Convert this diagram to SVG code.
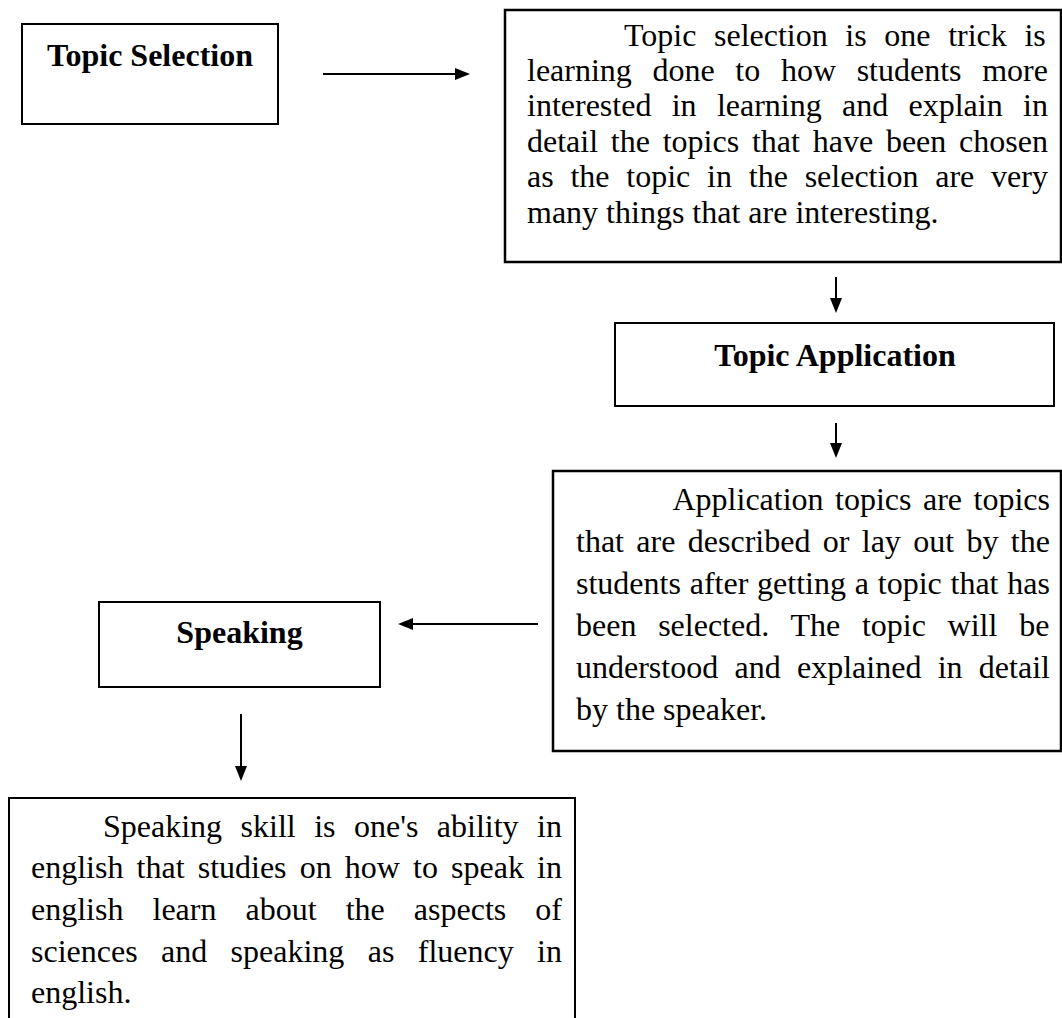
<svg xmlns="http://www.w3.org/2000/svg" width="1062" height="1018" viewBox="0 0 1062 1018">
<defs>
<style>
.box{fill:#fff;stroke:#000;stroke-width:2}
.thick{stroke-width:2.5}
.title{font-family:"Liberation Serif","Times New Roman",serif;font-size:32px;font-weight:bold;fill:#000;text-anchor:middle}
.body{font-family:"Liberation Serif","Times New Roman",serif;font-size:32px;fill:#000}
.conn{fill:none;stroke:#000;stroke-width:2}
</style>
<marker id="ah" viewBox="0 0 15 12" refX="0" refY="6" markerWidth="15" markerHeight="12" markerUnits="userSpaceOnUse" orient="auto">
<path d="M0,0 L15,6 L0,12 z" fill="#000"/>
</marker>
</defs>
<rect width="1062" height="1018" fill="#fff"/>

<g id="topic-selection">
<rect class="box" x="22" y="24" width="256" height="100"/>
<text class="title" x="150" y="66">Topic Selection</text>
</g>

<g id="topic-selection-desc">
<rect class="box thick" x="505" y="10" width="556" height="252"/>
<text class="body">
<tspan x="624" y="45.5" style="word-spacing:9.61px">Topic selection is one trick is</tspan>
<tspan x="527" y="80.9" style="word-spacing:12.65px">learning done to how students more</tspan>
<tspan x="527" y="116.3" style="word-spacing:12.3px">interested in learning and explain in</tspan>
<tspan x="527" y="151.7" style="word-spacing:4.78px">detail the topics that have been chosen</tspan>
<tspan x="527" y="187.1" style="word-spacing:8.79px">as the topic in the selection are very</tspan>
<tspan x="527" y="222.5">many things that are interesting.</tspan>
</text>
</g>

<g id="topic-application">
<rect class="box" x="615" y="323" width="439" height="83"/>
<text class="title" x="835" y="366">Topic Application</text>
</g>

<g id="application-desc">
<rect class="box thick" x="553" y="471" width="508" height="280"/>
<text class="body">
<tspan x="672.5" y="510" style="word-spacing:3.48px">Application topics are topics</tspan>
<tspan x="576" y="552" style="word-spacing:4.36px">that are described or lay out by the</tspan>
<tspan x="576" y="594" style="word-spacing:0.79px">students after getting a topic that has</tspan>
<tspan x="576" y="636" style="word-spacing:13.75px">been selected. The topic will be</tspan>
<tspan x="576" y="678" style="word-spacing:8.29px">understood and explained in detail</tspan>
<tspan x="576" y="720">by the speaker.</tspan>
</text>
</g>

<g id="speaking">
<rect class="box" x="99" y="602" width="281" height="85"/>
<text class="title" x="239.5" y="643">Speaking</text>
</g>

<g id="speaking-desc">
<rect class="box" x="9" y="798" width="566" height="240"/>
<text class="body">
<tspan x="103" y="836.7" style="word-spacing:10.46px">Speaking skill is one's ability in</tspan>
<tspan x="31" y="878.3" style="word-spacing:5.13px">english that studies on how to speak in</tspan>
<tspan x="31" y="920" style="word-spacing:21.06px">english learn about the aspects of</tspan>
<tspan x="31" y="961.7" style="word-spacing:15.38px">sciences and speaking as fluency in</tspan>
<tspan x="31" y="1003.3">english.</tspan>
</text>
</g>

<g id="connectors">
<path class="conn" d="M323,74 H455" marker-end="url(#ah)"/>
<path class="conn" d="M836,277 V298" marker-end="url(#ah)"/>
<path class="conn" d="M836,423 V443" marker-end="url(#ah)"/>
<path class="conn" d="M538,624 H413" marker-end="url(#ah)"/>
<path class="conn" d="M241,714 V766" marker-end="url(#ah)"/>
</g>
</svg>
